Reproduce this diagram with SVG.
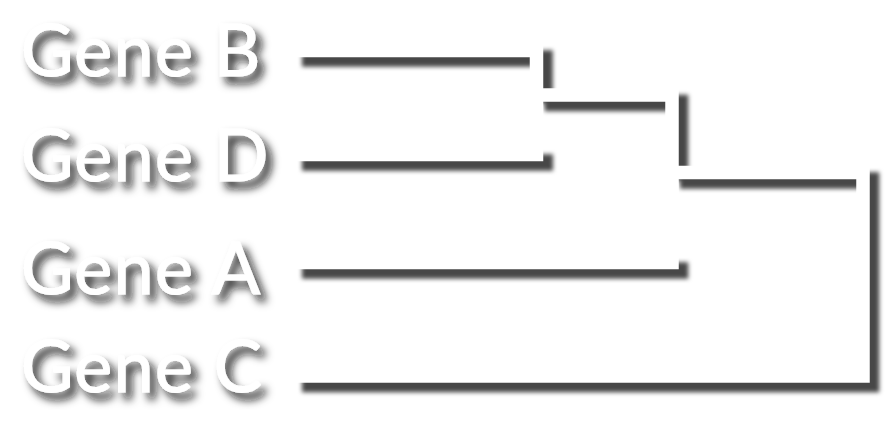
<svg xmlns="http://www.w3.org/2000/svg" width="887" height="424" viewBox="0 0 887 424">
  <style>
    .label { font-family: "Lato", "Open Sans", "DejaVu Sans", sans-serif; font-size: 72px; letter-spacing: 1.2px; fill: #ffffff; stroke: #ffffff; stroke-width: 1px; }
    .line { fill: none; stroke: #ffffff; stroke-width: 13.5; stroke-linejoin: miter; stroke-linecap: butt; }
    .shade { fill: none; stroke: #000000; stroke-width: 16.5; stroke-linejoin: miter; stroke-linecap: butt; }
  </style>
  <defs>
    <filter id="lineShadow" x="-5%" y="-10%" width="115%" height="130%">
      <feGaussianBlur in="SourceAlpha" stdDeviation="2.2"/>
      <feOffset dx="8" dy="7.75" result="b"/>
      <feFlood flood-color="#000000" flood-opacity="0.72"/>
      <feComposite in2="b" operator="in"/>
    </filter>
    <filter id="textShadow" x="-20%" y="-40%" width="140%" height="180%">
      <feGaussianBlur in="SourceAlpha" stdDeviation="4.5"/>
      <feOffset dx="6" dy="7" result="b"/>
      <feFlood flood-color="#111111" flood-opacity="0.9"/>
      <feComposite in2="b" operator="in" result="s"/>
      <feMerge>
        <feMergeNode in="s"/>
        <feMergeNode in="SourceGraphic"/>
      </feMerge>
    </filter>
  </defs>
  <rect x="0" y="0" width="887" height="424" fill="#ffffff"/>

  <g id="connectors">
    <g filter="url(#lineShadow)">
      <path class="shade" d="M294,50.5 H536.5 V95 M294,154.5 H545"/>
      <path class="shade" d="M536.5,95 H672 V172.5 M294,262.5 H680.25"/>
      <path class="shade" d="M672,172.5 H863 V376 H294"/>
    </g>
    <path class="line" d="M297,50.5 H536.5 V154.5 H297"/>
    <path class="line" d="M536.5,95 H672 V262.5 H297"/>
    <path class="line" d="M672,172.5 H863 V376 H297"/>
  </g>

  <g id="gene-b" filter="url(#textShadow)">
    <text class="label" x="21" y="76">Gene B</text>
  </g>
  <g id="gene-d" filter="url(#textShadow)">
    <text class="label" x="21" y="181">Gene D</text>
  </g>
  <g id="gene-a" filter="url(#textShadow)">
    <text class="label" x="21" y="294">Gene A</text>
  </g>
  <g id="gene-c" filter="url(#textShadow)">
    <text class="label" x="21" y="392">Gene C</text>
  </g>
</svg>
